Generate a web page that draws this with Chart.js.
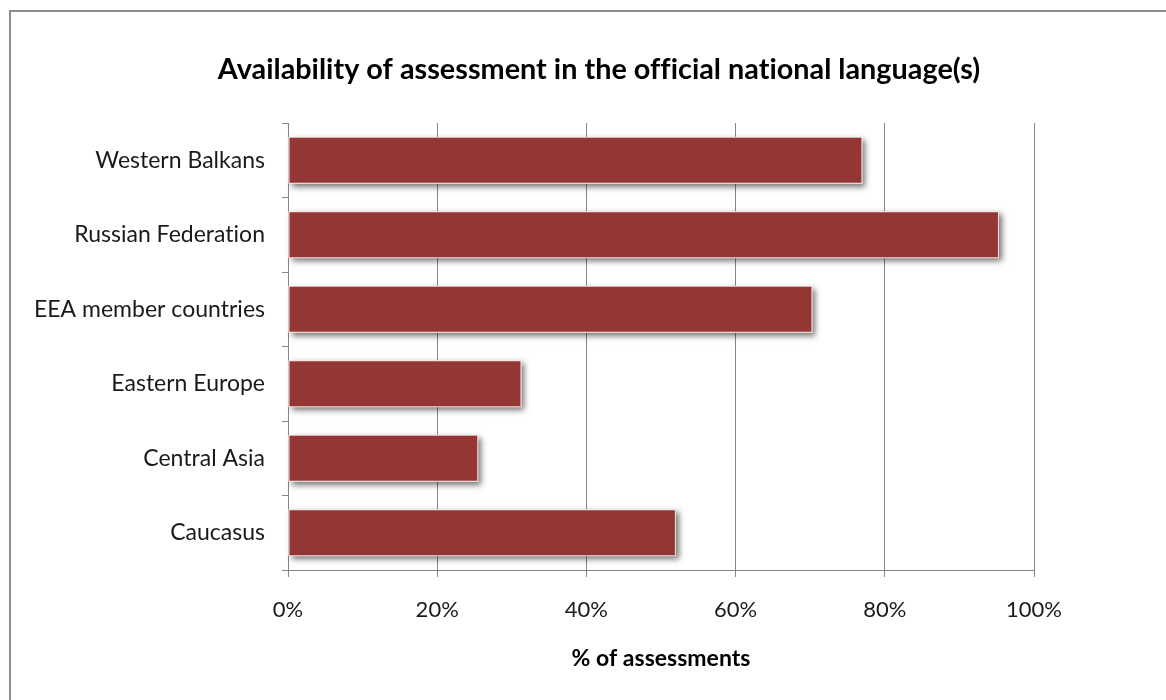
<!DOCTYPE html>
<html>
<head>
<meta charset="utf-8">
<script src="https://cdn.jsdelivr.net/npm/chart.js@4/dist/chart.umd.min.js"></script>
<style>
  html, body { margin: 0; padding: 0; background: #fff; overflow: hidden; width: 1166px; height: 700px; }
  #frame { position: absolute; left: 9px; top: 10px; width: 1200px; height: 720px; border: 2px solid #8e8e8e; box-sizing: border-box; }
  #c { position: absolute; left: 0; top: 0; font-variant-ligatures: none; }
</style>
</head>
<body>
<div id="frame"></div>
<canvas id="c" width="1166" height="700"></canvas>
<script>
const chartTitle = "Availability of assessment in the official national language(s)";
const xAxisTitle = "% of assessments";
const categories = ["Western Balkans", "Russian Federation", "EEA member countries", "Eastern Europe", "Central Asia", "Caucasus"];
const values = [77.0, 95.3, 70.3, 31.3, 25.5, 52.0];
const xTickValues = [0, 20, 40, 60, 80, 100];

const FONT = "Lato, 'Open Sans', sans-serif";

const noLigaturePlugin = {
  id: 'noLig',
  beforeDraw(chart) {
    if ('letterSpacing' in chart.ctx) chart.ctx.letterSpacing = '0.01px';
  }
};

// soft drop shadow under each bar, using the bar elements' own geometry
const shadowPlugin = {
  id: 'barShadow',
  beforeDatasetDraw(chart, args) {
    const ctx = chart.ctx;
    const meta = args.meta;
    ctx.save();
    ctx.fillStyle = '#ffffff';
    ctx.shadowColor = 'rgba(0,0,0,0.55)';
    ctx.shadowBlur = 6;
    ctx.shadowOffsetX = 3;
    ctx.shadowOffsetY = 3;
    meta.data.forEach(el => {
      const p = el.getProps(['x', 'y', 'base', 'height'], true);
      const left = Math.min(p.x, p.base), right = Math.max(p.x, p.base);
      ctx.fillRect(left, p.y - p.height / 2, right - left, p.height);
    });
    ctx.restore();
  }
};

const titlePlugin = {
  id: 'customTitle',
  afterDraw(chart) {
    const ctx = chart.ctx;
    ctx.save();
    ctx.font = "bold 28.8px " + FONT;
    ctx.fillStyle = '#000';
    ctx.textAlign = 'center';
    ctx.textBaseline = 'middle';
    ctx.fillText(chartTitle, 599, 70);
    ctx.restore();
  }
};

new Chart(document.getElementById('c'), {
  type: 'bar',
  data: {
    labels: categories,
    datasets: [{
      data: values,
      backgroundColor: '#943634',
      borderColor: '#efd3d3',
      borderWidth: 1,
      borderSkipped: false,
      barPercentage: 0.63,
      categoryPercentage: 1.0
    }]
  },
  options: {
    indexAxis: 'y',
    responsive: false,
    animation: false,
    devicePixelRatio: 1,
    layout: { padding: { top: 123, right: 132, left: 0, bottom: 0 } },
    plugins: {
      legend: { display: false },
      tooltip: { enabled: false },
      title: { display: false }
    },
    scales: {
      x: {
        min: 0,
        max: 100,
        afterFit(scale) { scale.height = 130; },
        afterBuildTicks(scale) { scale.ticks = xTickValues.map(v => ({ value: v })); },
        grid: {
          color: '#868686',
          lineWidth: 1,
          drawOnChartArea: true,
          drawTicks: true,
          tickLength: 7,
          tickColor: '#868686'
        },
        border: { display: true, color: '#868686', width: 1 },
        ticks: {
          callback: v => v + '%',
          font: { family: FONT, size: 22 },
          color: '#1a1a1a',
          padding: 20,
          maxRotation: 0
        },
        title: {
          display: true,
          text: xAxisTitle,
          font: { family: FONT, size: 23, weight: 'bold' },
          color: '#000',
          padding: { top: 0, bottom: 28 }
        }
      },
      y: {
        afterFit(scale) { scale.width = 288; },
        grid: {
          display: true,
          offset: true,
          drawOnChartArea: false,
          drawTicks: true,
          tickLength: 6,
          color: '#868686',
          tickColor: '#868686'
        },
        border: { display: true, color: '#868686', width: 1 },
        ticks: {
          font: { family: FONT, size: 23 },
          color: '#1a1a1a',
          padding: 17
        }
      }
    }
  },
  plugins: [noLigaturePlugin, shadowPlugin, titlePlugin]
});
</script>
</body>
</html>
